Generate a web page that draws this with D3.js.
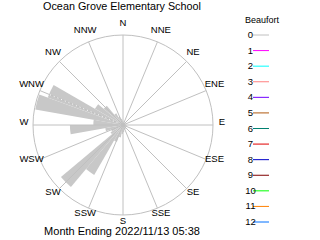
<!DOCTYPE html>
<html>
<head>
<meta charset="utf-8">
<script src="https://cdn.jsdelivr.net/npm/d3@7"></script>
<style>
	body { margin: 0; background: #fff; }
	text { font-family: "Liberation Sans", Arial, sans-serif; fill: #000; }
</style>
</head>
<body>
<div id="chart"></div>
<script>
const w = 320;
const h = 240;

const title = "Ocean Grove Elementary School";
const footer = "Month Ending 2022/11/13 05:38";

// compass points, every 22.5 degrees
const compassLabels = ['N','NNE','NE','ENE','E','ESE','SE','SSE','S','SSW','SW','WSW','W','WNW','NW','NNW'];

// 10 degree bins, starting at 0 (percent of time)
const binStart = d3.range(0, 360, 10);
const binFreq = [0.4, 0.3, 0.3, 0.3, 0.3, 0.3, 0.3, 0.3, 0.3, 0.4,
	0.4, 0.4, 0.4, 0.4, 0.5, 0.5, 0.6, 0.8, 1.0, 1.4,
	2.0, 6.4, 9.0, 1.6, 1.4, 2.0, 5.9, 3.3, 9.9, 8.9,
	3.6, 2.8, 1.5, 1.0, 0.7, 0.5];

const beaufort = ['0','1','2','3','4','5','6','7','8','9','10','11','12'];
const beaufortColors = ['#c0c0c0','#ff00ff','#00ffff','#ff8080','#7000ff','#b05a10','#008070',
	'#e00000','#0000c8','#800000','#00ff00','#ff8000','#0070ff'];

const cx = 123, cy = 125, R = 90;

let svg = d3.select('#chart')
	.append('svg')
		.attr('width', w)
		.attr('height', h);

let rScale = d3.scaleLinear().domain([0, 10]).range([0, R]);
let angle = d3.scaleLinear().domain([0, 360]).range([0, 2 * Math.PI]);

let rose = svg.append('g').attr('transform', `translate(${cx},${cy})`);

// wedges
let arc = d3.arc().innerRadius(0);
rose.selectAll('path.wedge')
	.data(binStart)
	.enter()
	.append('path')
	.attr('class', 'wedge')
	.attr('fill', '#c8c8c8')
	.attr('d', (d, i) => arc({
		startAngle: angle(d),
		endAngle: angle(d + 10),
		outerRadius: rScale(binFreq[i])
	}));

// grid
rose.append('circle')
	.attr('r', R)
	.attr('fill', 'none')
	.attr('stroke', '#c0c0c0');

rose.selectAll('line.spoke')
	.data(compassLabels)
	.enter()
	.append('line')
	.attr('class', 'spoke')
	.attr('x1', 0).attr('y1', 0)
	.attr('x2', (d, i) => R * Math.sin(angle(i * 22.5)))
	.attr('y2', (d, i) => -R * Math.cos(angle(i * 22.5)))
	.attr('stroke', '#c0c0c0')
	.attr('stroke-width', 1);

// the WNW spoke shows as white dots where it crosses the wedge
const wnw = angle(292.5);
const wnwLen = rScale(binFreq[29]);
rose.append('line')
	.attr('x1', 6 * Math.sin(wnw)).attr('y1', -6 * Math.cos(wnw))
	.attr('x2', wnwLen * Math.sin(wnw)).attr('y2', -wnwLen * Math.cos(wnw))
	.attr('stroke', '#fff')
	.attr('stroke-dasharray', '1,3');

rose.selectAll('text.dir')
	.data(compassLabels)
	.enter()
	.append('text')
	.attr('class', 'dir')
	.attr('x', (d, i) => 99 * Math.sin(angle(i * 22.5)))
	.attr('y', (d, i) => -99 * Math.cos(angle(i * 22.5)) - 0.5)
	.attr('text-anchor', 'middle')
	.style('font-size', '9.5px')
	.text(d => d);

svg.append('text')
	.attr('x', 122).attr('y', 10)
	.attr('text-anchor', 'middle')
	.style('font-size', '10.8px')
	.text(title);

svg.append('text')
	.attr('x', 122).attr('y', 235)
	.attr('text-anchor', 'middle')
	.style('font-size', '11px')
	.text(footer);

// legend
let legend = svg.append('g');
legend.append('text')
	.attr('x', 245).attr('y', 23)
	.style('font-size', '9px')
	.text('Beaufort');

let ly = d3.scalePoint().domain(beaufort).range([34.5, 221.5]);
let items = legend.selectAll('g.item')
	.data(beaufort)
	.enter()
	.append('g')
	.attr('class', 'item')
	.attr('transform', d => `translate(0,${ly(d)})`);

items.append('line')
	.attr('x1', 253).attr('x2', 269)
	.attr('y1', 0.5).attr('y2', 0.5)
	.attr('stroke', (d, i) => beaufortColors[i]);

items.append('text')
	.attr('x', 250.5).attr('y', 3.5)
	.attr('text-anchor', 'middle')
	.style('font-size', '9.5px')
	.text(d => d);
</script>
</body>
</html>
